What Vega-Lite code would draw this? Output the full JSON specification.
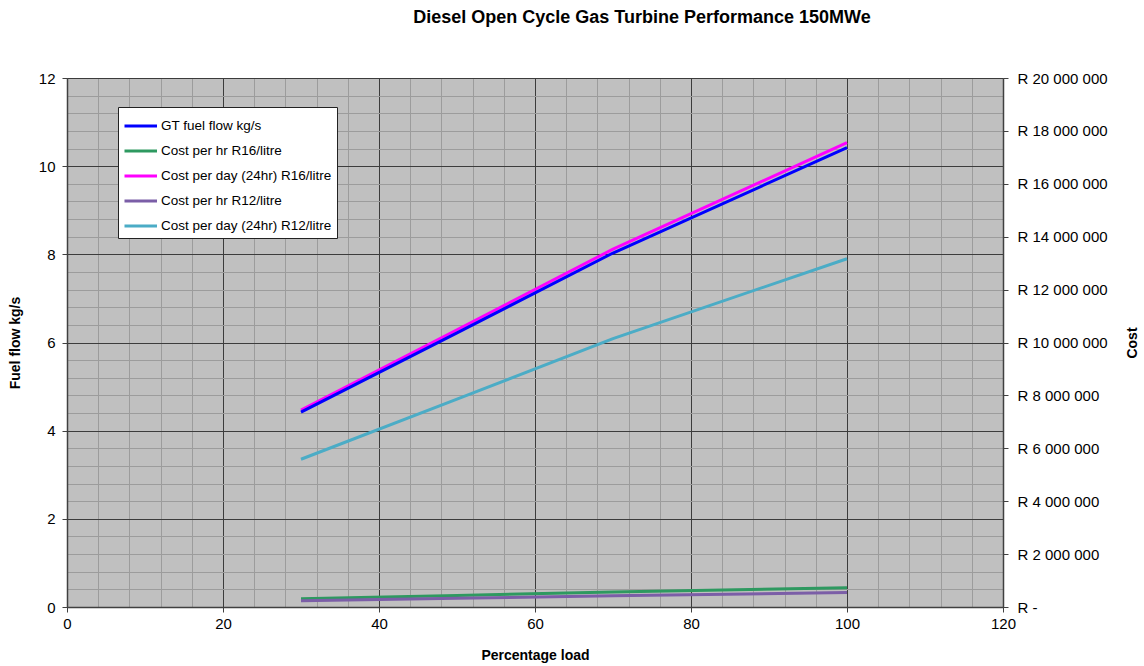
{
  "$schema": "https://vega.github.io/schema/vega-lite/v6.json",
  "width": 936,
  "height": 529,
  "autosize": {"type": "none"},
  "padding": {"left": 67, "top": 78, "right": 141, "bottom": 59},
  "background": "white",
  "config": {
    "view": {"fill": "#c0c0c0", "stroke": null},
    "font": "Liberation Sans",
    "axis": {"labelFont": "Liberation Sans", "titleFont": "Liberation Sans", "labelColor": "#000", "titleColor": "#000", "labelFontSize": 15, "titleFontSize": 14, "titleFontWeight": "bold", "domainColor": "#404040", "tickColor": "#404040", "labelOverlap": false, "labelFlush": false}
  },
  "title": {"text": "Diesel Open Cycle Gas Turbine Performance 150MWe", "fontSize": 18, "fontWeight": "bold", "font": "Liberation Sans", "color": "#000", "anchor": "middle", "dx": 107, "offset": 44},
  "data": {"values": [
    {"load": 30, "series": "GT fuel flow kg/s", "value": 4.42},
    {"load": 50, "series": "GT fuel flow kg/s", "value": 6.22},
    {"load": 70, "series": "GT fuel flow kg/s", "value": 8.03},
    {"load": 100, "series": "GT fuel flow kg/s", "value": 10.42},
    {"load": 30, "series": "Cost per hr R16/litre", "value": 310300},
    {"load": 50, "series": "Cost per hr R16/litre", "value": 436700},
    {"load": 70, "series": "Cost per hr R16/litre", "value": 563800},
    {"load": 100, "series": "Cost per hr R16/litre", "value": 731600},
    {"load": 30, "series": "Cost per day (24hr) R16/litre", "value": 7448000},
    {"load": 50, "series": "Cost per day (24hr) R16/litre", "value": 10481000},
    {"load": 70, "series": "Cost per day (24hr) R16/litre", "value": 13531000},
    {"load": 100, "series": "Cost per day (24hr) R16/litre", "value": 17558000},
    {"load": 30, "series": "Cost per hr R12/litre", "value": 232700},
    {"load": 50, "series": "Cost per hr R12/litre", "value": 327500},
    {"load": 70, "series": "Cost per hr R12/litre", "value": 422800},
    {"load": 100, "series": "Cost per hr R12/litre", "value": 548700},
    {"load": 30, "series": "Cost per day (24hr) R12/litre", "value": 5586000},
    {"load": 50, "series": "Cost per day (24hr) R12/litre", "value": 7861000},
    {"load": 70, "series": "Cost per day (24hr) R12/litre", "value": 10148000},
    {"load": 100, "series": "Cost per day (24hr) R12/litre", "value": 13168000}
  ]},
  "layer": [
    {
      "transform": [{"filter": "datum.series === 'GT fuel flow kg/s'"}],
      "mark": {"type": "line", "strokeOpacity": 0},
      "encoding": {
        "x": {"field": "load", "type": "quantitative", "scale": {"domain": [0, 120], "nice": false},
          "axis": {"orient": "bottom", "title": null, "labels": false, "ticks": false, "domain": false, "grid": true, "gridColor": "#9c9c9c",
            "values": [4,8,12,16,24,28,32,36,44,48,52,56,64,68,72,76,84,88,92,96,104,108,112,116]}},
        "y": {"field": "value", "type": "quantitative", "scale": {"domain": [0, 12], "nice": false},
          "axis": {"orient": "left", "title": null, "labels": false, "ticks": false, "domain": false, "grid": true, "gridColor": "#9c9c9c",
            "values": [0.4,0.8,1.2,1.6,2.4,2.8,3.2,3.6,4.4,4.8,5.2,5.6,6.4,6.8,7.2,7.6,8.4,8.8,9.2,9.6,10.4,10.8,11.2,11.6]}}
      }
    },
    {
      "transform": [{"filter": "datum.series !== 'GT fuel flow kg/s'"}],
      "mark": {"type": "line", "strokeWidth": 3},
      "encoding": {
        "x": {"field": "load", "type": "quantitative", "axis": null},
        "y": {"field": "value", "type": "quantitative", "scale": {"domain": [0, 20000000], "nice": false},
          "axis": {"orient": "right", "title": "Cost", "titleAngle": 270, "titlePadding": 32, "grid": false,
            "values": [0,2000000,4000000,6000000,8000000,10000000,12000000,14000000,16000000,18000000,20000000],
            "labelExpr": "datum.value === 0 ? 'R -' : 'R ' + replace(format(datum.value, ','), regexp(',', 'g'), ' ')",
            "tickSize": 5, "labelPadding": 9, "domainWidth": 1.5}},
        "color": {"field": "series", "type": "nominal",
          "scale": {"domain": ["GT fuel flow kg/s", "Cost per hr R16/litre", "Cost per day (24hr) R16/litre", "Cost per hr R12/litre", "Cost per day (24hr) R12/litre"],
            "range": ["#0000ff", "#2e9960", "#ff00ff", "#7b5ea7", "#4bacc6"]},
          "legend": {"title": null, "orient": "none", "legendX": 51, "legendY": 29,
            "symbolType": "M-1,0L1.6,0", "symbolSize": 625, "symbolStrokeWidth": 3,
            "labelFont": "Liberation Sans", "labelFontSize": 13.5, "labelColor": "#000", "labelOffset": 10, "labelLimit": 0,
            "rowPadding": 4, "padding": 5, "fillColor": "white", "strokeColor": "#222"}}
      }
    },
    {
      "transform": [{"filter": "datum.series === 'GT fuel flow kg/s'"}],
      "mark": {"type": "line", "strokeWidth": 3},
      "encoding": {
        "x": {"field": "load", "type": "quantitative",
          "axis": {"orient": "bottom", "title": "Percentage load", "titlePadding": 17, "grid": true, "gridColor": "#3c3c3c",
            "values": [0,20,40,60,80,100,120], "tickSize": 5, "labelPadding": 4, "domainWidth": 1.5}},
        "y": {"field": "value", "type": "quantitative", "scale": {"domain": [0, 12], "nice": false},
          "axis": {"orient": "left", "title": "Fuel flow kg/s", "titlePadding": 16, "grid": true, "gridColor": "#3c3c3c",
            "values": [0,2,4,6,8,10,12], "tickSize": 5, "labelPadding": 7, "domainWidth": 1.5}},
        "color": {"field": "series", "type": "nominal"}
      }
    }
  ],
  "resolve": {"scale": {"y": "independent"}, "axis": {"y": "independent", "x": "independent"}}
}
